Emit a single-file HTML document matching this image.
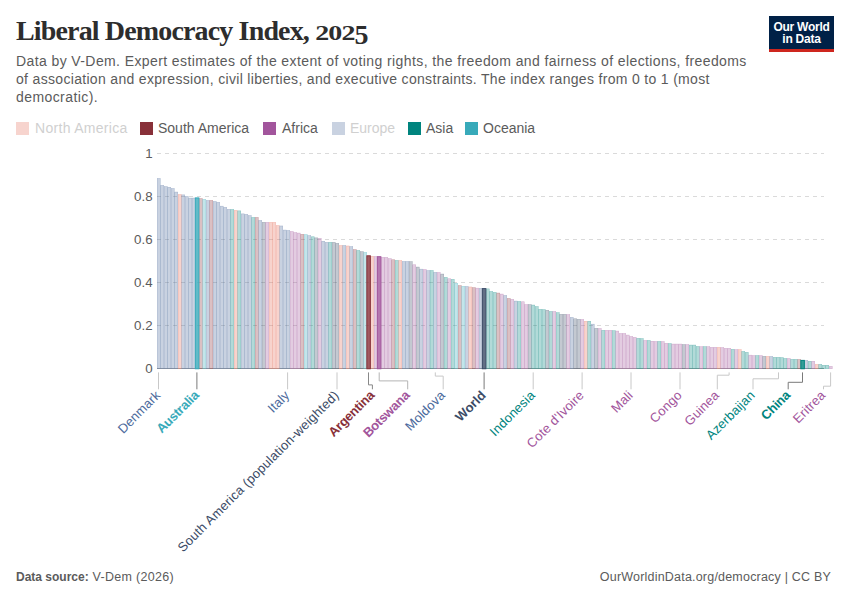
<!DOCTYPE html>
<html><head><meta charset="utf-8">
<style>
html,body{margin:0;padding:0;background:#fff;}
body{width:850px;height:600px;overflow:hidden;position:relative;font-family:"Liberation Sans",sans-serif;}
.title{position:absolute;left:16px;top:17px;font-family:"Liberation Serif",serif;font-weight:700;font-size:28px;line-height:28px;color:#2d2d2d;white-space:nowrap;letter-spacing:-0.85px;}
.sub{position:absolute;left:16px;top:53px;width:760px;font-size:14px;line-height:17.8px;color:#5b5b5b;letter-spacing:0.42px;}
.sub div{white-space:nowrap;}
.leg{position:absolute;top:121px;height:14px;font-size:14px;color:#5b5b5b;white-space:nowrap;}
.leg i{position:absolute;left:0;top:1px;width:13px;height:13px;}
.leg span{position:absolute;top:0px;line-height:15px;}
.logo{position:absolute;left:769px;top:16px;width:65px;height:36px;background:#002147;}
.logo .red{position:absolute;left:0;bottom:0;width:65px;height:3px;background:#ce261e;}
.logo .t{position:absolute;left:0;width:65px;text-align:center;color:#fff;font-weight:700;font-size:12px;line-height:12px;letter-spacing:-0.25px;}
.foot{position:absolute;top:569.5px;font-size:12.5px;color:#5b5b5b;white-space:nowrap;}
.foot b{font-size:12px;letter-spacing:0;}
svg{position:absolute;left:0;top:0;}
.os{display:inline-block;transform-origin:50% 23.4px;transform:scale(1.0,0.75);}
.os5{display:inline-block;transform-origin:50% 23.4px;transform:translateY(3.6px) scale(1.0,0.96);}
.yl{font-size:13.3px;fill:#5b5b5b;}
.xl{font-size:13px;letter-spacing:0.15px;}
</style></head><body>
<div class="title">Liberal Democracy Index, <span class="os">202</span><span class="os5">5</span></div>
<div class="sub"><div style="letter-spacing:0.40px">Data by V-Dem. Expert estimates of the extent of voting rights, the freedom and fairness of elections, freedoms</div><div style="letter-spacing:0.32px">of association and expression, civil liberties, and executive constraints. The index ranges from 0 to 1 (most</div><div>democratic).</div></div>
<div class="leg" style="left:16px"><i style="background:#f7d4ce"></i><span style="left:19px;color:#d0d0d0;letter-spacing:0.3px">North America</span></div>
<div class="leg" style="left:140px"><i style="background:#883039"></i><span style="left:18px">South America</span></div>
<div class="leg" style="left:263px"><i style="background:#A2559C"></i><span style="left:19px">Africa</span></div>
<div class="leg" style="left:332px"><i style="background:#c9d2e1"></i><span style="left:18px;color:#d0d0d0">Europe</span></div>
<div class="leg" style="left:408px"><i style="background:#00847E"></i><span style="left:18px">Asia</span></div>
<div class="leg" style="left:465px"><i style="background:#38AABA"></i><span style="left:18px">Oceania</span></div>
<div class="logo"><div class="t" style="top:4.5px">Our World</div><div class="t" style="top:17px">in Data</div><div class="red"></div></div>
<svg width="850" height="600" viewBox="0 0 850 600" font-family="Liberation Sans, sans-serif">
<line x1="157" y1="153.5" x2="824" y2="153.5" stroke="#dadada" stroke-width="1" stroke-dasharray="4,4"/>
<line x1="157" y1="196.5" x2="824" y2="196.5" stroke="#dadada" stroke-width="1" stroke-dasharray="4,4"/>
<line x1="157" y1="239.5" x2="824" y2="239.5" stroke="#dadada" stroke-width="1" stroke-dasharray="4,4"/>
<line x1="157" y1="282.5" x2="824" y2="282.5" stroke="#dadada" stroke-width="1" stroke-dasharray="4,4"/>
<line x1="157" y1="325.5" x2="824" y2="325.5" stroke="#dadada" stroke-width="1" stroke-dasharray="4,4"/>
<text x="152.6" y="157.9" text-anchor="end" class="yl">1</text>
<text x="152.6" y="200.9" text-anchor="end" class="yl">0.8</text>
<text x="152.6" y="243.9" text-anchor="end" class="yl">0.6</text>
<text x="152.6" y="286.9" text-anchor="end" class="yl">0.4</text>
<text x="152.6" y="329.9" text-anchor="end" class="yl">0.2</text>
<text x="152.6" y="372.7" text-anchor="end" class="yl">0</text>
<line x1="157" y1="368.5" x2="824" y2="368.5" stroke="#a8a8a8" stroke-width="1"/>
<rect x="157.25" y="178.45" width="3.00" height="190.30" fill="#4C6A9C" fill-opacity="0.3" stroke="#4C6A9C" stroke-opacity="0.4" stroke-width="0.5"/>
<rect x="160.75" y="185.35" width="3.00" height="183.40" fill="#4C6A9C" fill-opacity="0.3" stroke="#4C6A9C" stroke-opacity="0.4" stroke-width="0.5"/>
<rect x="164.25" y="186.55" width="3.00" height="182.20" fill="#4C6A9C" fill-opacity="0.3" stroke="#4C6A9C" stroke-opacity="0.4" stroke-width="0.5"/>
<rect x="167.75" y="187.25" width="3.00" height="181.50" fill="#4C6A9C" fill-opacity="0.3" stroke="#4C6A9C" stroke-opacity="0.4" stroke-width="0.5"/>
<rect x="171.25" y="188.45" width="3.00" height="180.30" fill="#4C6A9C" fill-opacity="0.3" stroke="#4C6A9C" stroke-opacity="0.4" stroke-width="0.5"/>
<rect x="174.75" y="192.05" width="3.00" height="176.70" fill="#4C6A9C" fill-opacity="0.3" stroke="#4C6A9C" stroke-opacity="0.4" stroke-width="0.5"/>
<rect x="178.25" y="194.45" width="3.00" height="174.30" fill="#E56E5A" fill-opacity="0.3" stroke="#E56E5A" stroke-opacity="0.4" stroke-width="0.5"/>
<rect x="181.75" y="194.85" width="3.00" height="173.90" fill="#4C6A9C" fill-opacity="0.3" stroke="#4C6A9C" stroke-opacity="0.4" stroke-width="0.5"/>
<rect x="185.25" y="196.45" width="3.00" height="172.30" fill="#4C6A9C" fill-opacity="0.3" stroke="#4C6A9C" stroke-opacity="0.4" stroke-width="0.5"/>
<rect x="188.75" y="198.05" width="3.00" height="170.70" fill="#4C6A9C" fill-opacity="0.3" stroke="#4C6A9C" stroke-opacity="0.4" stroke-width="0.5"/>
<rect x="192.25" y="198.05" width="3.00" height="170.70" fill="#4C6A9C" fill-opacity="0.3" stroke="#4C6A9C" stroke-opacity="0.4" stroke-width="0.5"/>
<rect x="199.25" y="198.55" width="3.00" height="170.20" fill="#883039" fill-opacity="0.3" stroke="#883039" stroke-opacity="0.4" stroke-width="0.5"/>
<rect x="202.75" y="199.25" width="3.00" height="169.50" fill="#38AABA" fill-opacity="0.3" stroke="#38AABA" stroke-opacity="0.4" stroke-width="0.5"/>
<rect x="206.25" y="200.45" width="3.00" height="168.30" fill="#4C6A9C" fill-opacity="0.3" stroke="#4C6A9C" stroke-opacity="0.4" stroke-width="0.5"/>
<rect x="209.75" y="200.45" width="3.00" height="168.30" fill="#883039" fill-opacity="0.3" stroke="#883039" stroke-opacity="0.4" stroke-width="0.5"/>
<rect x="213.25" y="201.45" width="3.00" height="167.30" fill="#4C6A9C" fill-opacity="0.3" stroke="#4C6A9C" stroke-opacity="0.4" stroke-width="0.5"/>
<rect x="216.75" y="202.35" width="3.00" height="166.40" fill="#4C6A9C" fill-opacity="0.3" stroke="#4C6A9C" stroke-opacity="0.4" stroke-width="0.5"/>
<rect x="220.25" y="206.15" width="3.00" height="162.60" fill="#4C6A9C" fill-opacity="0.3" stroke="#4C6A9C" stroke-opacity="0.4" stroke-width="0.5"/>
<rect x="223.75" y="207.35" width="3.00" height="161.40" fill="#4C6A9C" fill-opacity="0.3" stroke="#4C6A9C" stroke-opacity="0.4" stroke-width="0.5"/>
<rect x="227.25" y="209.35" width="3.00" height="159.40" fill="#4C6A9C" fill-opacity="0.3" stroke="#4C6A9C" stroke-opacity="0.4" stroke-width="0.5"/>
<rect x="230.75" y="209.45" width="3.00" height="159.30" fill="#00847E" fill-opacity="0.3" stroke="#00847E" stroke-opacity="0.4" stroke-width="0.5"/>
<rect x="234.25" y="210.35" width="3.00" height="158.40" fill="#E56E5A" fill-opacity="0.3" stroke="#E56E5A" stroke-opacity="0.4" stroke-width="0.5"/>
<rect x="237.75" y="210.85" width="3.00" height="157.90" fill="#00847E" fill-opacity="0.3" stroke="#00847E" stroke-opacity="0.4" stroke-width="0.5"/>
<rect x="241.25" y="213.85" width="3.00" height="154.90" fill="#4C6A9C" fill-opacity="0.3" stroke="#4C6A9C" stroke-opacity="0.4" stroke-width="0.5"/>
<rect x="244.75" y="214.35" width="3.00" height="154.40" fill="#4C6A9C" fill-opacity="0.3" stroke="#4C6A9C" stroke-opacity="0.4" stroke-width="0.5"/>
<rect x="248.25" y="215.55" width="3.00" height="153.20" fill="#4C6A9C" fill-opacity="0.3" stroke="#4C6A9C" stroke-opacity="0.4" stroke-width="0.5"/>
<rect x="251.75" y="217.45" width="3.00" height="151.30" fill="#00847E" fill-opacity="0.3" stroke="#00847E" stroke-opacity="0.4" stroke-width="0.5"/>
<rect x="255.25" y="217.45" width="3.00" height="151.30" fill="#883039" fill-opacity="0.3" stroke="#883039" stroke-opacity="0.4" stroke-width="0.5"/>
<rect x="258.75" y="220.45" width="3.00" height="148.30" fill="#4C6A9C" fill-opacity="0.3" stroke="#4C6A9C" stroke-opacity="0.4" stroke-width="0.5"/>
<rect x="262.25" y="222.35" width="3.00" height="146.40" fill="#3b4b66" fill-opacity="0.3" stroke="#3b4b66" stroke-opacity="0.4" stroke-width="0.5"/>
<rect x="265.75" y="222.35" width="3.00" height="146.40" fill="#A2559C" fill-opacity="0.3" stroke="#A2559C" stroke-opacity="0.4" stroke-width="0.5"/>
<rect x="269.25" y="222.35" width="3.00" height="146.40" fill="#E56E5A" fill-opacity="0.3" stroke="#E56E5A" stroke-opacity="0.4" stroke-width="0.5"/>
<rect x="272.75" y="222.35" width="3.00" height="146.40" fill="#E56E5A" fill-opacity="0.3" stroke="#E56E5A" stroke-opacity="0.4" stroke-width="0.5"/>
<rect x="276.25" y="225.45" width="3.00" height="143.30" fill="#E56E5A" fill-opacity="0.3" stroke="#E56E5A" stroke-opacity="0.4" stroke-width="0.5"/>
<rect x="279.75" y="225.95" width="3.00" height="142.80" fill="#4C6A9C" fill-opacity="0.3" stroke="#4C6A9C" stroke-opacity="0.4" stroke-width="0.5"/>
<rect x="283.25" y="230.05" width="3.00" height="138.70" fill="#4C6A9C" fill-opacity="0.3" stroke="#4C6A9C" stroke-opacity="0.4" stroke-width="0.5"/>
<rect x="286.75" y="230.45" width="3.00" height="138.30" fill="#4C6A9C" fill-opacity="0.3" stroke="#4C6A9C" stroke-opacity="0.4" stroke-width="0.5"/>
<rect x="290.25" y="231.45" width="3.00" height="137.30" fill="#A2559C" fill-opacity="0.3" stroke="#A2559C" stroke-opacity="0.4" stroke-width="0.5"/>
<rect x="293.75" y="232.55" width="3.00" height="136.20" fill="#A2559C" fill-opacity="0.3" stroke="#A2559C" stroke-opacity="0.4" stroke-width="0.5"/>
<rect x="297.25" y="233.05" width="3.00" height="135.70" fill="#A2559C" fill-opacity="0.3" stroke="#A2559C" stroke-opacity="0.4" stroke-width="0.5"/>
<rect x="300.75" y="234.35" width="3.00" height="134.40" fill="#883039" fill-opacity="0.3" stroke="#883039" stroke-opacity="0.4" stroke-width="0.5"/>
<rect x="304.25" y="234.45" width="3.00" height="134.30" fill="#38AABA" fill-opacity="0.3" stroke="#38AABA" stroke-opacity="0.4" stroke-width="0.5"/>
<rect x="307.75" y="235.55" width="3.00" height="133.20" fill="#4C6A9C" fill-opacity="0.3" stroke="#4C6A9C" stroke-opacity="0.4" stroke-width="0.5"/>
<rect x="311.25" y="236.75" width="3.00" height="132.00" fill="#00847E" fill-opacity="0.3" stroke="#00847E" stroke-opacity="0.4" stroke-width="0.5"/>
<rect x="314.75" y="237.85" width="3.00" height="130.90" fill="#3b4b66" fill-opacity="0.3" stroke="#3b4b66" stroke-opacity="0.4" stroke-width="0.5"/>
<rect x="318.25" y="238.35" width="3.00" height="130.40" fill="#A2559C" fill-opacity="0.3" stroke="#A2559C" stroke-opacity="0.4" stroke-width="0.5"/>
<rect x="321.75" y="241.25" width="3.00" height="127.50" fill="#4C6A9C" fill-opacity="0.3" stroke="#4C6A9C" stroke-opacity="0.4" stroke-width="0.5"/>
<rect x="325.25" y="242.35" width="3.00" height="126.40" fill="#4C6A9C" fill-opacity="0.3" stroke="#4C6A9C" stroke-opacity="0.4" stroke-width="0.5"/>
<rect x="328.75" y="242.35" width="3.00" height="126.40" fill="#00847E" fill-opacity="0.3" stroke="#00847E" stroke-opacity="0.4" stroke-width="0.5"/>
<rect x="332.25" y="242.35" width="3.00" height="126.40" fill="#3b4b66" fill-opacity="0.3" stroke="#3b4b66" stroke-opacity="0.4" stroke-width="0.5"/>
<rect x="335.75" y="243.35" width="3.00" height="125.40" fill="#3b4b66" fill-opacity="0.3" stroke="#3b4b66" stroke-opacity="0.4" stroke-width="0.5"/>
<rect x="339.25" y="245.45" width="3.00" height="123.30" fill="#E56E5A" fill-opacity="0.3" stroke="#E56E5A" stroke-opacity="0.4" stroke-width="0.5"/>
<rect x="342.75" y="245.45" width="3.00" height="123.30" fill="#4C6A9C" fill-opacity="0.3" stroke="#4C6A9C" stroke-opacity="0.4" stroke-width="0.5"/>
<rect x="346.25" y="245.95" width="3.00" height="122.80" fill="#E56E5A" fill-opacity="0.3" stroke="#E56E5A" stroke-opacity="0.4" stroke-width="0.5"/>
<rect x="349.75" y="246.55" width="3.00" height="122.20" fill="#4C6A9C" fill-opacity="0.3" stroke="#4C6A9C" stroke-opacity="0.4" stroke-width="0.5"/>
<rect x="353.25" y="249.55" width="3.00" height="119.20" fill="#883039" fill-opacity="0.3" stroke="#883039" stroke-opacity="0.4" stroke-width="0.5"/>
<rect x="356.75" y="250.45" width="3.00" height="118.30" fill="#00847E" fill-opacity="0.3" stroke="#00847E" stroke-opacity="0.4" stroke-width="0.5"/>
<rect x="360.25" y="251.65" width="3.00" height="117.10" fill="#3b4b66" fill-opacity="0.3" stroke="#3b4b66" stroke-opacity="0.4" stroke-width="0.5"/>
<rect x="363.75" y="252.35" width="3.00" height="116.40" fill="#38AABA" fill-opacity="0.3" stroke="#38AABA" stroke-opacity="0.4" stroke-width="0.5"/>
<rect x="370.75" y="256.25" width="3.00" height="112.50" fill="#E56E5A" fill-opacity="0.3" stroke="#E56E5A" stroke-opacity="0.4" stroke-width="0.5"/>
<rect x="374.25" y="256.45" width="3.00" height="112.30" fill="#A2559C" fill-opacity="0.3" stroke="#A2559C" stroke-opacity="0.4" stroke-width="0.5"/>
<rect x="381.25" y="257.35" width="3.00" height="111.40" fill="#A2559C" fill-opacity="0.3" stroke="#A2559C" stroke-opacity="0.4" stroke-width="0.5"/>
<rect x="384.75" y="257.35" width="3.00" height="111.40" fill="#A2559C" fill-opacity="0.3" stroke="#A2559C" stroke-opacity="0.4" stroke-width="0.5"/>
<rect x="388.25" y="258.55" width="3.00" height="110.20" fill="#A2559C" fill-opacity="0.3" stroke="#A2559C" stroke-opacity="0.4" stroke-width="0.5"/>
<rect x="391.75" y="259.75" width="3.00" height="109.00" fill="#883039" fill-opacity="0.3" stroke="#883039" stroke-opacity="0.4" stroke-width="0.5"/>
<rect x="395.25" y="260.45" width="3.00" height="108.30" fill="#00847E" fill-opacity="0.3" stroke="#00847E" stroke-opacity="0.4" stroke-width="0.5"/>
<rect x="398.75" y="260.45" width="3.00" height="108.30" fill="#E56E5A" fill-opacity="0.3" stroke="#E56E5A" stroke-opacity="0.4" stroke-width="0.5"/>
<rect x="402.25" y="261.45" width="3.00" height="107.30" fill="#4C6A9C" fill-opacity="0.3" stroke="#4C6A9C" stroke-opacity="0.4" stroke-width="0.5"/>
<rect x="405.75" y="261.45" width="3.00" height="107.30" fill="#4C6A9C" fill-opacity="0.3" stroke="#4C6A9C" stroke-opacity="0.4" stroke-width="0.5"/>
<rect x="409.25" y="261.65" width="3.00" height="107.10" fill="#3b4b66" fill-opacity="0.3" stroke="#3b4b66" stroke-opacity="0.4" stroke-width="0.5"/>
<rect x="412.75" y="264.75" width="3.00" height="104.00" fill="#A2559C" fill-opacity="0.3" stroke="#A2559C" stroke-opacity="0.4" stroke-width="0.5"/>
<rect x="416.25" y="267.05" width="3.00" height="101.70" fill="#3b4b66" fill-opacity="0.3" stroke="#3b4b66" stroke-opacity="0.4" stroke-width="0.5"/>
<rect x="419.75" y="269.15" width="3.00" height="99.60" fill="#4C6A9C" fill-opacity="0.3" stroke="#4C6A9C" stroke-opacity="0.4" stroke-width="0.5"/>
<rect x="423.25" y="269.45" width="3.00" height="99.30" fill="#A2559C" fill-opacity="0.3" stroke="#A2559C" stroke-opacity="0.4" stroke-width="0.5"/>
<rect x="426.75" y="270.55" width="3.00" height="98.20" fill="#4C6A9C" fill-opacity="0.3" stroke="#4C6A9C" stroke-opacity="0.4" stroke-width="0.5"/>
<rect x="430.25" y="270.45" width="3.00" height="98.30" fill="#00847E" fill-opacity="0.3" stroke="#00847E" stroke-opacity="0.4" stroke-width="0.5"/>
<rect x="433.75" y="272.35" width="3.00" height="96.40" fill="#4C6A9C" fill-opacity="0.3" stroke="#4C6A9C" stroke-opacity="0.4" stroke-width="0.5"/>
<rect x="437.25" y="272.45" width="3.00" height="96.30" fill="#A2559C" fill-opacity="0.3" stroke="#A2559C" stroke-opacity="0.4" stroke-width="0.5"/>
<rect x="440.75" y="274.05" width="3.00" height="94.70" fill="#3b4b66" fill-opacity="0.3" stroke="#3b4b66" stroke-opacity="0.4" stroke-width="0.5"/>
<rect x="444.25" y="277.35" width="3.00" height="91.40" fill="#00847E" fill-opacity="0.3" stroke="#00847E" stroke-opacity="0.4" stroke-width="0.5"/>
<rect x="447.75" y="278.75" width="3.00" height="90.00" fill="#A2559C" fill-opacity="0.3" stroke="#A2559C" stroke-opacity="0.4" stroke-width="0.5"/>
<rect x="451.25" y="279.35" width="3.00" height="89.40" fill="#00847E" fill-opacity="0.3" stroke="#00847E" stroke-opacity="0.4" stroke-width="0.5"/>
<rect x="454.75" y="283.25" width="3.00" height="85.50" fill="#38AABA" fill-opacity="0.3" stroke="#38AABA" stroke-opacity="0.4" stroke-width="0.5"/>
<rect x="458.25" y="285.55" width="3.00" height="83.20" fill="#883039" fill-opacity="0.3" stroke="#883039" stroke-opacity="0.4" stroke-width="0.5"/>
<rect x="461.75" y="286.25" width="3.00" height="82.50" fill="#38AABA" fill-opacity="0.3" stroke="#38AABA" stroke-opacity="0.4" stroke-width="0.5"/>
<rect x="465.25" y="286.45" width="3.00" height="82.30" fill="#4C6A9C" fill-opacity="0.3" stroke="#4C6A9C" stroke-opacity="0.4" stroke-width="0.5"/>
<rect x="468.75" y="286.95" width="3.00" height="81.80" fill="#E56E5A" fill-opacity="0.3" stroke="#E56E5A" stroke-opacity="0.4" stroke-width="0.5"/>
<rect x="472.25" y="287.65" width="3.00" height="81.10" fill="#883039" fill-opacity="0.3" stroke="#883039" stroke-opacity="0.4" stroke-width="0.5"/>
<rect x="475.75" y="288.15" width="3.00" height="80.60" fill="#A2559C" fill-opacity="0.3" stroke="#A2559C" stroke-opacity="0.4" stroke-width="0.5"/>
<rect x="479.25" y="288.35" width="3.00" height="80.40" fill="#4C6A9C" fill-opacity="0.3" stroke="#4C6A9C" stroke-opacity="0.4" stroke-width="0.5"/>
<rect x="486.25" y="288.85" width="3.00" height="79.90" fill="#00847E" fill-opacity="0.3" stroke="#00847E" stroke-opacity="0.4" stroke-width="0.5"/>
<rect x="489.75" y="291.45" width="3.00" height="77.30" fill="#00847E" fill-opacity="0.3" stroke="#00847E" stroke-opacity="0.4" stroke-width="0.5"/>
<rect x="493.25" y="292.35" width="3.00" height="76.40" fill="#00847E" fill-opacity="0.3" stroke="#00847E" stroke-opacity="0.4" stroke-width="0.5"/>
<rect x="496.75" y="293.05" width="3.00" height="75.70" fill="#883039" fill-opacity="0.3" stroke="#883039" stroke-opacity="0.4" stroke-width="0.5"/>
<rect x="500.25" y="294.05" width="3.00" height="74.70" fill="#A2559C" fill-opacity="0.3" stroke="#A2559C" stroke-opacity="0.4" stroke-width="0.5"/>
<rect x="503.75" y="295.45" width="3.00" height="73.30" fill="#4C6A9C" fill-opacity="0.3" stroke="#4C6A9C" stroke-opacity="0.4" stroke-width="0.5"/>
<rect x="507.25" y="298.45" width="3.00" height="70.30" fill="#883039" fill-opacity="0.3" stroke="#883039" stroke-opacity="0.4" stroke-width="0.5"/>
<rect x="510.75" y="299.35" width="3.00" height="69.40" fill="#A2559C" fill-opacity="0.3" stroke="#A2559C" stroke-opacity="0.4" stroke-width="0.5"/>
<rect x="514.25" y="301.05" width="3.00" height="67.70" fill="#4C6A9C" fill-opacity="0.3" stroke="#4C6A9C" stroke-opacity="0.4" stroke-width="0.5"/>
<rect x="517.75" y="301.45" width="3.00" height="67.30" fill="#00847E" fill-opacity="0.3" stroke="#00847E" stroke-opacity="0.4" stroke-width="0.5"/>
<rect x="521.25" y="301.75" width="3.00" height="67.00" fill="#A2559C" fill-opacity="0.3" stroke="#A2559C" stroke-opacity="0.4" stroke-width="0.5"/>
<rect x="524.75" y="304.55" width="3.00" height="64.20" fill="#A2559C" fill-opacity="0.3" stroke="#A2559C" stroke-opacity="0.4" stroke-width="0.5"/>
<rect x="528.25" y="304.55" width="3.00" height="64.20" fill="#3b4b66" fill-opacity="0.3" stroke="#3b4b66" stroke-opacity="0.4" stroke-width="0.5"/>
<rect x="531.75" y="305.05" width="3.00" height="63.70" fill="#00847E" fill-opacity="0.3" stroke="#00847E" stroke-opacity="0.4" stroke-width="0.5"/>
<rect x="535.25" y="306.55" width="3.00" height="62.20" fill="#00847E" fill-opacity="0.3" stroke="#00847E" stroke-opacity="0.4" stroke-width="0.5"/>
<rect x="538.75" y="309.35" width="3.00" height="59.40" fill="#00847E" fill-opacity="0.3" stroke="#00847E" stroke-opacity="0.4" stroke-width="0.5"/>
<rect x="542.25" y="309.55" width="3.00" height="59.20" fill="#00847E" fill-opacity="0.3" stroke="#00847E" stroke-opacity="0.4" stroke-width="0.5"/>
<rect x="545.75" y="310.25" width="3.00" height="58.50" fill="#3b4b66" fill-opacity="0.3" stroke="#3b4b66" stroke-opacity="0.4" stroke-width="0.5"/>
<rect x="549.25" y="311.45" width="3.00" height="57.30" fill="#00847E" fill-opacity="0.3" stroke="#00847E" stroke-opacity="0.4" stroke-width="0.5"/>
<rect x="552.75" y="311.45" width="3.00" height="57.30" fill="#A2559C" fill-opacity="0.3" stroke="#A2559C" stroke-opacity="0.4" stroke-width="0.5"/>
<rect x="556.25" y="312.65" width="3.00" height="56.10" fill="#00847E" fill-opacity="0.3" stroke="#00847E" stroke-opacity="0.4" stroke-width="0.5"/>
<rect x="559.75" y="314.35" width="3.00" height="54.40" fill="#3b4b66" fill-opacity="0.3" stroke="#3b4b66" stroke-opacity="0.4" stroke-width="0.5"/>
<rect x="563.25" y="314.35" width="3.00" height="54.40" fill="#3b4b66" fill-opacity="0.3" stroke="#3b4b66" stroke-opacity="0.4" stroke-width="0.5"/>
<rect x="566.75" y="314.55" width="3.00" height="54.20" fill="#A2559C" fill-opacity="0.3" stroke="#A2559C" stroke-opacity="0.4" stroke-width="0.5"/>
<rect x="570.25" y="317.35" width="3.00" height="51.40" fill="#4C6A9C" fill-opacity="0.3" stroke="#4C6A9C" stroke-opacity="0.4" stroke-width="0.5"/>
<rect x="573.75" y="318.75" width="3.00" height="50.00" fill="#3b4b66" fill-opacity="0.3" stroke="#3b4b66" stroke-opacity="0.4" stroke-width="0.5"/>
<rect x="577.25" y="319.35" width="3.00" height="49.40" fill="#3b4b66" fill-opacity="0.3" stroke="#3b4b66" stroke-opacity="0.4" stroke-width="0.5"/>
<rect x="580.75" y="319.45" width="3.00" height="49.30" fill="#A2559C" fill-opacity="0.3" stroke="#A2559C" stroke-opacity="0.4" stroke-width="0.5"/>
<rect x="584.25" y="321.25" width="3.00" height="47.50" fill="#E56E5A" fill-opacity="0.3" stroke="#E56E5A" stroke-opacity="0.4" stroke-width="0.5"/>
<rect x="587.75" y="321.25" width="3.00" height="47.50" fill="#00847E" fill-opacity="0.3" stroke="#00847E" stroke-opacity="0.4" stroke-width="0.5"/>
<rect x="591.25" y="324.15" width="3.00" height="44.60" fill="#4C6A9C" fill-opacity="0.3" stroke="#4C6A9C" stroke-opacity="0.4" stroke-width="0.5"/>
<rect x="594.75" y="328.35" width="3.00" height="40.40" fill="#3b4b66" fill-opacity="0.3" stroke="#3b4b66" stroke-opacity="0.4" stroke-width="0.5"/>
<rect x="598.25" y="328.45" width="3.00" height="40.30" fill="#A2559C" fill-opacity="0.3" stroke="#A2559C" stroke-opacity="0.4" stroke-width="0.5"/>
<rect x="601.75" y="330.35" width="3.00" height="38.40" fill="#00847E" fill-opacity="0.3" stroke="#00847E" stroke-opacity="0.4" stroke-width="0.5"/>
<rect x="605.25" y="330.35" width="3.00" height="38.40" fill="#A2559C" fill-opacity="0.3" stroke="#A2559C" stroke-opacity="0.4" stroke-width="0.5"/>
<rect x="608.75" y="330.35" width="3.00" height="38.40" fill="#A2559C" fill-opacity="0.3" stroke="#A2559C" stroke-opacity="0.4" stroke-width="0.5"/>
<rect x="612.25" y="330.65" width="3.00" height="38.10" fill="#00847E" fill-opacity="0.3" stroke="#00847E" stroke-opacity="0.4" stroke-width="0.5"/>
<rect x="615.75" y="331.05" width="3.00" height="37.70" fill="#A2559C" fill-opacity="0.3" stroke="#A2559C" stroke-opacity="0.4" stroke-width="0.5"/>
<rect x="619.25" y="333.45" width="3.00" height="35.30" fill="#A2559C" fill-opacity="0.3" stroke="#A2559C" stroke-opacity="0.4" stroke-width="0.5"/>
<rect x="622.75" y="333.45" width="3.00" height="35.30" fill="#A2559C" fill-opacity="0.3" stroke="#A2559C" stroke-opacity="0.4" stroke-width="0.5"/>
<rect x="626.25" y="335.05" width="3.00" height="33.70" fill="#A2559C" fill-opacity="0.3" stroke="#A2559C" stroke-opacity="0.4" stroke-width="0.5"/>
<rect x="629.75" y="336.45" width="3.00" height="32.30" fill="#A2559C" fill-opacity="0.3" stroke="#A2559C" stroke-opacity="0.4" stroke-width="0.5"/>
<rect x="633.25" y="337.35" width="3.00" height="31.40" fill="#A2559C" fill-opacity="0.3" stroke="#A2559C" stroke-opacity="0.4" stroke-width="0.5"/>
<rect x="636.75" y="338.35" width="3.00" height="30.40" fill="#00847E" fill-opacity="0.3" stroke="#00847E" stroke-opacity="0.4" stroke-width="0.5"/>
<rect x="640.25" y="338.55" width="3.00" height="30.20" fill="#00847E" fill-opacity="0.3" stroke="#00847E" stroke-opacity="0.4" stroke-width="0.5"/>
<rect x="643.75" y="340.45" width="3.00" height="28.30" fill="#A2559C" fill-opacity="0.3" stroke="#A2559C" stroke-opacity="0.4" stroke-width="0.5"/>
<rect x="647.25" y="340.45" width="3.00" height="28.30" fill="#00847E" fill-opacity="0.3" stroke="#00847E" stroke-opacity="0.4" stroke-width="0.5"/>
<rect x="650.75" y="341.25" width="3.00" height="27.50" fill="#A2559C" fill-opacity="0.3" stroke="#A2559C" stroke-opacity="0.4" stroke-width="0.5"/>
<rect x="654.25" y="341.45" width="3.00" height="27.30" fill="#A2559C" fill-opacity="0.3" stroke="#A2559C" stroke-opacity="0.4" stroke-width="0.5"/>
<rect x="657.75" y="341.45" width="3.00" height="27.30" fill="#00847E" fill-opacity="0.3" stroke="#00847E" stroke-opacity="0.4" stroke-width="0.5"/>
<rect x="661.25" y="341.55" width="3.00" height="27.20" fill="#A2559C" fill-opacity="0.3" stroke="#A2559C" stroke-opacity="0.4" stroke-width="0.5"/>
<rect x="664.75" y="343.35" width="3.00" height="25.40" fill="#A2559C" fill-opacity="0.3" stroke="#A2559C" stroke-opacity="0.4" stroke-width="0.5"/>
<rect x="668.25" y="343.55" width="3.00" height="25.20" fill="#00847E" fill-opacity="0.3" stroke="#00847E" stroke-opacity="0.4" stroke-width="0.5"/>
<rect x="671.75" y="344.05" width="3.00" height="24.70" fill="#A2559C" fill-opacity="0.3" stroke="#A2559C" stroke-opacity="0.4" stroke-width="0.5"/>
<rect x="675.25" y="344.05" width="3.00" height="24.70" fill="#A2559C" fill-opacity="0.3" stroke="#A2559C" stroke-opacity="0.4" stroke-width="0.5"/>
<rect x="678.75" y="344.05" width="3.00" height="24.70" fill="#A2559C" fill-opacity="0.3" stroke="#A2559C" stroke-opacity="0.4" stroke-width="0.5"/>
<rect x="682.25" y="344.55" width="3.00" height="24.20" fill="#3b4b66" fill-opacity="0.3" stroke="#3b4b66" stroke-opacity="0.4" stroke-width="0.5"/>
<rect x="685.75" y="344.55" width="3.00" height="24.20" fill="#A2559C" fill-opacity="0.3" stroke="#A2559C" stroke-opacity="0.4" stroke-width="0.5"/>
<rect x="689.25" y="345.05" width="3.00" height="23.70" fill="#00847E" fill-opacity="0.3" stroke="#00847E" stroke-opacity="0.4" stroke-width="0.5"/>
<rect x="692.75" y="345.05" width="3.00" height="23.70" fill="#00847E" fill-opacity="0.3" stroke="#00847E" stroke-opacity="0.4" stroke-width="0.5"/>
<rect x="696.25" y="346.45" width="3.00" height="22.30" fill="#00847E" fill-opacity="0.3" stroke="#00847E" stroke-opacity="0.4" stroke-width="0.5"/>
<rect x="699.75" y="346.65" width="3.00" height="22.10" fill="#A2559C" fill-opacity="0.3" stroke="#A2559C" stroke-opacity="0.4" stroke-width="0.5"/>
<rect x="703.25" y="346.65" width="3.00" height="22.10" fill="#00847E" fill-opacity="0.3" stroke="#00847E" stroke-opacity="0.4" stroke-width="0.5"/>
<rect x="706.75" y="346.65" width="3.00" height="22.10" fill="#A2559C" fill-opacity="0.3" stroke="#A2559C" stroke-opacity="0.4" stroke-width="0.5"/>
<rect x="710.25" y="347.35" width="3.00" height="21.40" fill="#A2559C" fill-opacity="0.3" stroke="#A2559C" stroke-opacity="0.4" stroke-width="0.5"/>
<rect x="713.75" y="347.35" width="3.00" height="21.40" fill="#A2559C" fill-opacity="0.3" stroke="#A2559C" stroke-opacity="0.4" stroke-width="0.5"/>
<rect x="717.25" y="347.35" width="3.00" height="21.40" fill="#E56E5A" fill-opacity="0.3" stroke="#E56E5A" stroke-opacity="0.4" stroke-width="0.5"/>
<rect x="720.75" y="347.55" width="3.00" height="21.20" fill="#A2559C" fill-opacity="0.3" stroke="#A2559C" stroke-opacity="0.4" stroke-width="0.5"/>
<rect x="724.25" y="348.35" width="3.00" height="20.40" fill="#A2559C" fill-opacity="0.3" stroke="#A2559C" stroke-opacity="0.4" stroke-width="0.5"/>
<rect x="727.75" y="348.35" width="3.00" height="20.40" fill="#A2559C" fill-opacity="0.3" stroke="#A2559C" stroke-opacity="0.4" stroke-width="0.5"/>
<rect x="731.25" y="349.35" width="3.00" height="19.40" fill="#00847E" fill-opacity="0.3" stroke="#00847E" stroke-opacity="0.4" stroke-width="0.5"/>
<rect x="734.75" y="349.55" width="3.00" height="19.20" fill="#A2559C" fill-opacity="0.3" stroke="#A2559C" stroke-opacity="0.4" stroke-width="0.5"/>
<rect x="738.25" y="349.55" width="3.00" height="19.20" fill="#E56E5A" fill-opacity="0.3" stroke="#E56E5A" stroke-opacity="0.4" stroke-width="0.5"/>
<rect x="741.75" y="351.45" width="3.00" height="17.30" fill="#00847E" fill-opacity="0.3" stroke="#00847E" stroke-opacity="0.4" stroke-width="0.5"/>
<rect x="745.25" y="352.35" width="3.00" height="16.40" fill="#00847E" fill-opacity="0.3" stroke="#00847E" stroke-opacity="0.4" stroke-width="0.5"/>
<rect x="748.75" y="355.15" width="3.00" height="13.60" fill="#A2559C" fill-opacity="0.3" stroke="#A2559C" stroke-opacity="0.4" stroke-width="0.5"/>
<rect x="752.25" y="355.55" width="3.00" height="13.20" fill="#A2559C" fill-opacity="0.3" stroke="#A2559C" stroke-opacity="0.4" stroke-width="0.5"/>
<rect x="755.75" y="355.55" width="3.00" height="13.20" fill="#00847E" fill-opacity="0.3" stroke="#00847E" stroke-opacity="0.4" stroke-width="0.5"/>
<rect x="759.25" y="355.55" width="3.00" height="13.20" fill="#A2559C" fill-opacity="0.3" stroke="#A2559C" stroke-opacity="0.4" stroke-width="0.5"/>
<rect x="762.75" y="356.35" width="3.00" height="12.40" fill="#3b4b66" fill-opacity="0.3" stroke="#3b4b66" stroke-opacity="0.4" stroke-width="0.5"/>
<rect x="766.25" y="356.35" width="3.00" height="12.40" fill="#E56E5A" fill-opacity="0.3" stroke="#E56E5A" stroke-opacity="0.4" stroke-width="0.5"/>
<rect x="769.75" y="356.45" width="3.00" height="12.30" fill="#4C6A9C" fill-opacity="0.3" stroke="#4C6A9C" stroke-opacity="0.4" stroke-width="0.5"/>
<rect x="773.25" y="357.35" width="3.00" height="11.40" fill="#00847E" fill-opacity="0.3" stroke="#00847E" stroke-opacity="0.4" stroke-width="0.5"/>
<rect x="776.75" y="357.35" width="3.00" height="11.40" fill="#00847E" fill-opacity="0.3" stroke="#00847E" stroke-opacity="0.4" stroke-width="0.5"/>
<rect x="780.25" y="357.55" width="3.00" height="11.20" fill="#00847E" fill-opacity="0.3" stroke="#00847E" stroke-opacity="0.4" stroke-width="0.5"/>
<rect x="783.75" y="358.45" width="3.00" height="10.30" fill="#00847E" fill-opacity="0.3" stroke="#00847E" stroke-opacity="0.4" stroke-width="0.5"/>
<rect x="787.25" y="358.45" width="3.00" height="10.30" fill="#A2559C" fill-opacity="0.3" stroke="#A2559C" stroke-opacity="0.4" stroke-width="0.5"/>
<rect x="790.75" y="359.35" width="3.00" height="9.40" fill="#00847E" fill-opacity="0.3" stroke="#00847E" stroke-opacity="0.4" stroke-width="0.5"/>
<rect x="794.25" y="359.35" width="3.00" height="9.40" fill="#00847E" fill-opacity="0.3" stroke="#00847E" stroke-opacity="0.4" stroke-width="0.5"/>
<rect x="797.75" y="359.45" width="3.00" height="9.30" fill="#883039" fill-opacity="0.3" stroke="#883039" stroke-opacity="0.4" stroke-width="0.5"/>
<rect x="804.75" y="360.35" width="3.00" height="8.40" fill="#4C6A9C" fill-opacity="0.3" stroke="#4C6A9C" stroke-opacity="0.4" stroke-width="0.5"/>
<rect x="808.25" y="361.25" width="3.00" height="7.50" fill="#00847E" fill-opacity="0.3" stroke="#00847E" stroke-opacity="0.4" stroke-width="0.5"/>
<rect x="811.75" y="361.25" width="3.00" height="7.50" fill="#A2559C" fill-opacity="0.3" stroke="#A2559C" stroke-opacity="0.4" stroke-width="0.5"/>
<rect x="815.25" y="364.35" width="3.00" height="4.40" fill="#E56E5A" fill-opacity="0.3" stroke="#E56E5A" stroke-opacity="0.4" stroke-width="0.5"/>
<rect x="818.75" y="364.35" width="3.00" height="4.40" fill="#00847E" fill-opacity="0.3" stroke="#00847E" stroke-opacity="0.4" stroke-width="0.5"/>
<rect x="822.25" y="365.25" width="3.00" height="3.50" fill="#00847E" fill-opacity="0.3" stroke="#00847E" stroke-opacity="0.4" stroke-width="0.5"/>
<rect x="825.75" y="365.25" width="3.00" height="3.50" fill="#00847E" fill-opacity="0.3" stroke="#00847E" stroke-opacity="0.4" stroke-width="0.5"/>
<rect x="829.25" y="366.35" width="3.00" height="2.40" fill="#A2559C" fill-opacity="0.3" stroke="#A2559C" stroke-opacity="0.4" stroke-width="0.5"/>
<rect x="195.35" y="197.90" width="3.50" height="170.85" fill="#38AABA" fill-opacity="0.8" stroke="#38AABA" stroke-width="1"/>
<rect x="366.85" y="255.80" width="3.50" height="112.95" fill="#883039" fill-opacity="0.8" stroke="#883039" stroke-width="1"/>
<rect x="377.35" y="256.70" width="3.50" height="112.05" fill="#A2559C" fill-opacity="0.8" stroke="#A2559C" stroke-width="1"/>
<rect x="482.35" y="288.60" width="3.50" height="80.15" fill="#3b4b66" fill-opacity="0.8" stroke="#3b4b66" stroke-width="1"/>
<rect x="800.85" y="360.40" width="3.50" height="8.35" fill="#00847E" fill-opacity="0.8" stroke="#00847E" stroke-width="1"/>
<path d="M158.5,372.4 L158.5,389.3" fill="none" stroke="#c8c8c8" stroke-width="1"/>
<text x="161.2" y="396.1" transform="rotate(-45 161.2 396.1)" text-anchor="end" class="xl" fill="#4C6A9C" font-weight="400">Denmark</text>
<path d="M196.9,372.4 L196.9,389.3" fill="none" stroke="#7a7a7a" stroke-width="1"/>
<text x="199.6" y="396.1" transform="rotate(-45 199.6 396.1)" text-anchor="end" class="xl" fill="#38AABA" font-weight="700" style="letter-spacing:-0.25px">Australia</text>
<path d="M287.6,372.4 L287.6,389.3" fill="none" stroke="#c8c8c8" stroke-width="1"/>
<text x="290.3" y="396.1" transform="rotate(-45 290.3 396.1)" text-anchor="end" class="xl" fill="#4C6A9C" font-weight="400">Italy</text>
<path d="M337,372.4 L337,389.3" fill="none" stroke="#c8c8c8" stroke-width="1"/>
<text x="339.7" y="396.1" transform="rotate(-45 339.7 396.1)" text-anchor="end" class="xl" fill="#3b4b66" font-weight="400" style="letter-spacing:0.24px">South America (population-weighted)</text>
<path d="M368.5,372.4 L368.5,384.9 L372.4,384.9 L372.4,389.3" fill="none" stroke="#888888" stroke-width="1"/>
<text x="375.1" y="396.1" transform="rotate(-45 375.1 396.1)" text-anchor="end" class="xl" fill="#883039" font-weight="700" style="letter-spacing:-0.25px">Argentina</text>
<path d="M379.2,372.4 L379.2,380.9 L407.7,380.9 L407.7,389.3" fill="none" stroke="#b4b4b4" stroke-width="1"/>
<text x="410.4" y="396.1" transform="rotate(-45 410.4 396.1)" text-anchor="end" class="xl" fill="#A2559C" font-weight="700" style="letter-spacing:-0.25px">Botswana</text>
<path d="M435.3,372.4 L435.3,376.1 L443.2,376.1 L443.2,389.3" fill="none" stroke="#c8c8c8" stroke-width="1"/>
<text x="445.9" y="396.1" transform="rotate(-45 445.9 396.1)" text-anchor="end" class="xl" fill="#4C6A9C" font-weight="400">Moldova</text>
<path d="M484.1,372.4 L484.1,389.3" fill="none" stroke="#7a7a7a" stroke-width="1"/>
<text x="486.8" y="396.1" transform="rotate(-45 486.8 396.1)" text-anchor="end" class="xl" fill="#3b4b66" font-weight="700" style="letter-spacing:0.1px">World</text>
<path d="M533.2,372.4 L533.2,389.3" fill="none" stroke="#c8c8c8" stroke-width="1"/>
<text x="535.9" y="396.1" transform="rotate(-45 535.9 396.1)" text-anchor="end" class="xl" fill="#00847E" font-weight="400">Indonesia</text>
<path d="M582.1,372.4 L582.1,389.3" fill="none" stroke="#c8c8c8" stroke-width="1"/>
<text x="584.8" y="396.1" transform="rotate(-45 584.8 396.1)" text-anchor="end" class="xl" fill="#A2559C" font-weight="400">Cote d'Ivoire</text>
<path d="M631.0,372.4 L631.0,389.3" fill="none" stroke="#c8c8c8" stroke-width="1"/>
<text x="633.7" y="396.1" transform="rotate(-45 633.7 396.1)" text-anchor="end" class="xl" fill="#A2559C" font-weight="400">Mali</text>
<path d="M680.0,372.4 L680.0,389.3" fill="none" stroke="#c8c8c8" stroke-width="1"/>
<text x="682.7" y="396.1" transform="rotate(-45 682.7 396.1)" text-anchor="end" class="xl" fill="#A2559C" font-weight="400">Congo</text>
<path d="M729.1,372.4 L729.1,375.2 L717.3,375.2 L717.3,389.3" fill="none" stroke="#c8c8c8" stroke-width="1"/>
<text x="720.0" y="396.1" transform="rotate(-45 720.0 396.1)" text-anchor="end" class="xl" fill="#A2559C" font-weight="400">Guinea</text>
<path d="M778.5,372.4 L778.5,378.8 L753.0,378.8 L753.0,389.3" fill="none" stroke="#c8c8c8" stroke-width="1"/>
<text x="755.7" y="396.1" transform="rotate(-45 755.7 396.1)" text-anchor="end" class="xl" fill="#00847E" font-weight="400">Azerbaijan</text>
<path d="M802.5,372.4 L802.5,382.3 L788.2,382.3 L788.2,389.3" fill="none" stroke="#7a7a7a" stroke-width="1"/>
<text x="790.9" y="396.1" transform="rotate(-45 790.9 396.1)" text-anchor="end" class="xl" fill="#00847E" font-weight="700" style="letter-spacing:-0.25px">China</text>
<path d="M830.6,372.4 L830.6,386.2 L823.5,386.2 L823.5,389.3" fill="none" stroke="#c8c8c8" stroke-width="1"/>
<text x="826.2" y="396.1" transform="rotate(-45 826.2 396.1)" text-anchor="end" class="xl" fill="#A2559C" font-weight="400">Eritrea</text>
</svg>
<div class="foot" style="left:16px;letter-spacing:0.3px"><b>Data source:</b> V-Dem (2026)</div>
<div class="foot" style="right:19px;letter-spacing:0.2px">OurWorldinData.org/democracy | CC BY</div>
</body></html>
